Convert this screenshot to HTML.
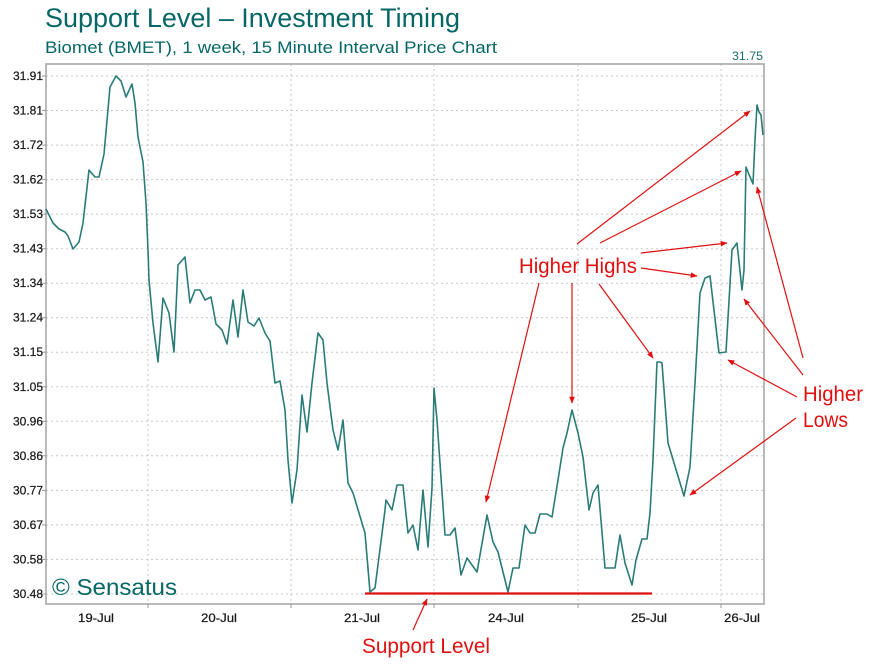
<!DOCTYPE html>
<html>
<head>
<meta charset="utf-8">
<style>
html,body{margin:0;padding:0;background:#fff;}
svg{display:block;}
</style>
</head>
<body>
<svg width="877" height="665" viewBox="0 0 877 665" xmlns="http://www.w3.org/2000/svg">
<rect x="0" y="0" width="877" height="665" fill="#fff"/>
<!-- Titles -->
<text x="45" y="27" font-family="Liberation Sans, sans-serif" font-size="26.8" fill="#076666" textLength="415" lengthAdjust="spacingAndGlyphs">Support Level – Investment Timing</text>
<text x="45" y="53" font-family="Liberation Sans, sans-serif" font-size="16.5" fill="#076666" textLength="452" lengthAdjust="spacingAndGlyphs">Biomet (BMET), 1 week, 15 Minute Interval Price Chart</text>
<text x="763" y="60" text-anchor="end" font-family="Liberation Sans, sans-serif" font-size="12" fill="#1a6b6b" textLength="31" lengthAdjust="spacingAndGlyphs">31.75</text>

<!-- Grid -->
<g stroke="#c8c8c8" stroke-width="1" stroke-dasharray="2 3" fill="none">
<line x1="46" y1="76" x2="764" y2="76"/>
<line x1="46" y1="110.5" x2="764" y2="110.5"/>
<line x1="46" y1="145.1" x2="764" y2="145.1"/>
<line x1="46" y1="179.6" x2="764" y2="179.6"/>
<line x1="46" y1="214.1" x2="764" y2="214.1"/>
<line x1="46" y1="248.7" x2="764" y2="248.7"/>
<line x1="46" y1="283.2" x2="764" y2="283.2"/>
<line x1="46" y1="317.7" x2="764" y2="317.7"/>
<line x1="46" y1="352.2" x2="764" y2="352.2"/>
<line x1="46" y1="386.8" x2="764" y2="386.8"/>
<line x1="46" y1="421.3" x2="764" y2="421.3"/>
<line x1="46" y1="455.8" x2="764" y2="455.8"/>
<line x1="46" y1="490.4" x2="764" y2="490.4"/>
<line x1="46" y1="524.9" x2="764" y2="524.9"/>
<line x1="46" y1="559.4" x2="764" y2="559.4"/>
<line x1="46" y1="594" x2="764" y2="594"/>
<line x1="148" y1="64" x2="148" y2="604"/>
<line x1="291" y1="64" x2="291" y2="604"/>
<line x1="434" y1="64" x2="434" y2="604"/>
<line x1="578" y1="64" x2="578" y2="604"/>
<line x1="721" y1="64" x2="721" y2="604"/>
</g>

<!-- Frame -->
<rect x="46" y="64" width="718" height="540" fill="none" stroke="#a9a9a9" stroke-width="1.6"/>

<!-- Ticks -->
<g stroke="#999" stroke-width="1">
<line x1="42" y1="76" x2="46" y2="76"/>
<line x1="42" y1="110.5" x2="46" y2="110.5"/>
<line x1="42" y1="145.1" x2="46" y2="145.1"/>
<line x1="42" y1="179.6" x2="46" y2="179.6"/>
<line x1="42" y1="214.1" x2="46" y2="214.1"/>
<line x1="42" y1="248.7" x2="46" y2="248.7"/>
<line x1="42" y1="283.2" x2="46" y2="283.2"/>
<line x1="42" y1="317.7" x2="46" y2="317.7"/>
<line x1="42" y1="352.2" x2="46" y2="352.2"/>
<line x1="42" y1="386.8" x2="46" y2="386.8"/>
<line x1="42" y1="421.3" x2="46" y2="421.3"/>
<line x1="42" y1="455.8" x2="46" y2="455.8"/>
<line x1="42" y1="490.4" x2="46" y2="490.4"/>
<line x1="42" y1="524.9" x2="46" y2="524.9"/>
<line x1="42" y1="559.4" x2="46" y2="559.4"/>
<line x1="42" y1="594" x2="46" y2="594"/>
<line x1="148" y1="604" x2="148" y2="608"/>
<line x1="291" y1="604" x2="291" y2="608"/>
<line x1="434" y1="604" x2="434" y2="608"/>
<line x1="578" y1="604" x2="578" y2="608"/>
<line x1="721" y1="604" x2="721" y2="608"/>
</g>

<!-- Y labels -->
<g font-family="Liberation Sans, sans-serif" font-size="12" fill="#1a1a1a" stroke="#1a1a1a" stroke-width="0.25">
<text x="13" y="80" textLength="30" lengthAdjust="spacingAndGlyphs">31.91</text>
<text x="13" y="114.5" textLength="30" lengthAdjust="spacingAndGlyphs">31.81</text>
<text x="13" y="149.1" textLength="30" lengthAdjust="spacingAndGlyphs">31.72</text>
<text x="13" y="183.6" textLength="30" lengthAdjust="spacingAndGlyphs">31.62</text>
<text x="13" y="218.1" textLength="30" lengthAdjust="spacingAndGlyphs">31.53</text>
<text x="13" y="252.7" textLength="30" lengthAdjust="spacingAndGlyphs">31.43</text>
<text x="13" y="287.2" textLength="30" lengthAdjust="spacingAndGlyphs">31.34</text>
<text x="13" y="321.7" textLength="30" lengthAdjust="spacingAndGlyphs">31.24</text>
<text x="13" y="356.2" textLength="30" lengthAdjust="spacingAndGlyphs">31.15</text>
<text x="13" y="390.8" textLength="30" lengthAdjust="spacingAndGlyphs">31.05</text>
<text x="13" y="425.3" textLength="30" lengthAdjust="spacingAndGlyphs">30.96</text>
<text x="13" y="459.8" textLength="30" lengthAdjust="spacingAndGlyphs">30.86</text>
<text x="13" y="494.4" textLength="30" lengthAdjust="spacingAndGlyphs">30.77</text>
<text x="13" y="528.9" textLength="30" lengthAdjust="spacingAndGlyphs">30.67</text>
<text x="13" y="563.4" textLength="30" lengthAdjust="spacingAndGlyphs">30.58</text>
<text x="13" y="598" textLength="30" lengthAdjust="spacingAndGlyphs">30.48</text>
</g>

<!-- X labels -->
<g font-family="Liberation Sans, sans-serif" font-size="12" fill="#1a1a1a" stroke="#1a1a1a" stroke-width="0.25">
<text x="78" y="622" textLength="36" lengthAdjust="spacingAndGlyphs">19-Jul</text>
<text x="201" y="622" textLength="36" lengthAdjust="spacingAndGlyphs">20-Jul</text>
<text x="344" y="622" textLength="36" lengthAdjust="spacingAndGlyphs">21-Jul</text>
<text x="488" y="622" textLength="36" lengthAdjust="spacingAndGlyphs">24-Jul</text>
<text x="631" y="622" textLength="36" lengthAdjust="spacingAndGlyphs">25-Jul</text>
<text x="724" y="622" textLength="36" lengthAdjust="spacingAndGlyphs">26-Jul</text>
</g>

<!-- Watermark -->
<text x="52" y="595" font-family="Liberation Sans, sans-serif" font-size="23" fill="#076666" textLength="125" lengthAdjust="spacingAndGlyphs">© Sensatus</text>

<!-- Support line -->
<line x1="365" y1="593.5" x2="652" y2="593.5" stroke="#e01010" stroke-width="2.2"/>

<!-- Price line -->
<polyline fill="none" stroke="#2a7c78" stroke-width="1.6" stroke-linejoin="round" points="46,209 53,223 59,229 65,232 68,236 73,249 79,242 83,223 89,170 95,177 99,177 104,154 110,87 116,76 121,81 126,97 132,84 135,103 138,137 143,162 146,203 148,250 149,280 153,323 158,362 163,298 169,313 174,352 178,265 185,257 190,303 195,290 200,290 205,300 211,297 216,324 222,330 227,344 233,300 238,337 243,290 248,322 254,326 259,318 265,333 270,341 275,383 280,381 285,410 288,460 292,503 297,470 302,395 307,432 312,383 318,333 323,340 327,383 333,430 338,450 343,420 348,483 353,493 365,533 370,592 375,588 385,510 386,500 392,510 397,485 403,485 408,533 413,525 418,550 423,490 428,547 432,488 434,388 437,420 445,535 450,535 455,528 461,575 467,558 477,572 487,515 493,542 498,552 508,592 513,568 519,568 525,525 530,533 535,533 540,514 547,514 552,517 558,480 563,448 567,433 572,410 578,433 583,457 589,510 593,493 598,485 605,568 615,568 620,535 625,563 632,585 636,560 642,539 647,539 650,513 653,460 657,362 660,362 662,363 668,443 684,496 690,467 695,383 700,293 705,278 710,276 719,353 726,352 732,250 737,243 742,290 744,270 746,167 748,172 753,184 755,140 757,105 759,112 761,115 763,135"/>

<!-- Annotations -->
<defs>
<marker id="ah" viewBox="0 0 10 10" refX="9" refY="5" markerWidth="7" markerHeight="7" orient="auto" markerUnits="userSpaceOnUse">
<path d="M0,1 L10,5 L0,9 z" fill="#e01010"/>
</marker>
</defs>
<g stroke="#e01010" stroke-width="1.2" fill="none" marker-end="url(#ah)">
<line x1="577" y1="244" x2="750" y2="111"/>
<line x1="600" y1="243" x2="741" y2="171"/>
<line x1="641" y1="253" x2="727" y2="243"/>
<line x1="641" y1="268" x2="697" y2="276"/>
<line x1="599" y1="284" x2="653" y2="358"/>
<line x1="572" y1="283" x2="572" y2="403"/>
<line x1="539" y1="283" x2="486" y2="502"/>
<line x1="413" y1="630" x2="427" y2="599"/>
<line x1="803" y1="358" x2="757" y2="187"/>
<line x1="803" y1="375" x2="744" y2="299"/>
<line x1="797" y1="397" x2="728" y2="360"/>
<line x1="796" y1="418" x2="690" y2="495"/>
</g>
<g font-family="Liberation Sans, sans-serif" font-size="21" fill="#e01010">
<text x="519" y="273" textLength="118" lengthAdjust="spacingAndGlyphs">Higher Highs</text>
<text x="803" y="401" textLength="60" lengthAdjust="spacingAndGlyphs">Higher</text>
<text x="803" y="427" textLength="45" lengthAdjust="spacingAndGlyphs">Lows</text>
<text x="362" y="653" textLength="128" lengthAdjust="spacingAndGlyphs">Support Level</text>
</g>
</svg>
</body>
</html>
